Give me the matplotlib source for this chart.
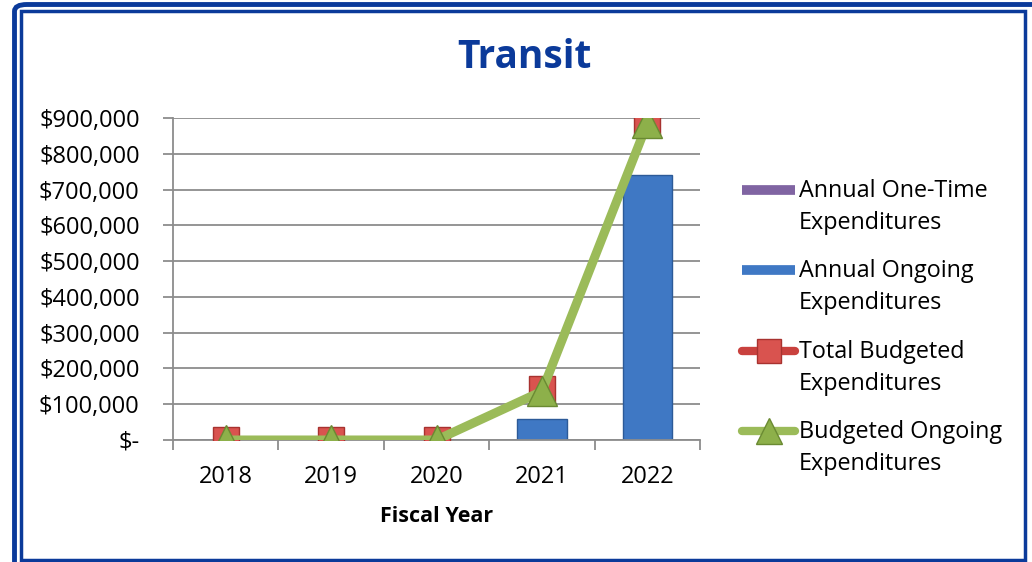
import numpy as np
import matplotlib.pyplot as plt
from matplotlib.lines import Line2D
from matplotlib.patches import FancyBboxPatch, Rectangle
from matplotlib.ticker import FuncFormatter, MultipleLocator

years = ["2018", "2019", "2020", "2021", "2022"]
one_time = [0, 0, 0, 0, 0]
ongoing = [0, 0, 0, 60000, 740000]
total_budgeted = [0, 0, 0, 142000, 890000]
budgeted_ongoing = [0, 0, 0, 136000, 885000]

plt.rcParams["font.family"] = ["Open Sans", "DejaVu Sans"]

purple = "#8064A2"
blue = "#3F78C4"
red = "#C9413E"
green = "#9BBB59"
navy = "#0B3A9A"

fig = plt.figure(figsize=(10.32, 5.62), dpi=100)
W, H = 1032, 562


def fx(px):
    return px / W


def fy(py):
    return 1 - py / H


# double border round the chart area
outer = FancyBboxPatch((fx(14.5), fy(700)), 1.2, fy(4.5) - fy(700),
                       boxstyle="round,pad=0,rounding_size=0.012",
                       transform=fig.transFigure, fill=False, ec=navy, lw=3.5)
inner = Rectangle((fx(21), fy(560)), fx(1024.5) - fx(21), fy(11) - fy(560),
                  transform=fig.transFigure, fill=False, ec=navy, lw=2.5)
fig.patches.extend([outer, inner])

ax = fig.add_axes([fx(173), fy(440), fx(700) - fx(173), fy(118) - fy(440)])
x = np.arange(len(years))

ax.bar(x, ongoing, width=0.47, color=blue, edgecolor="#2C5A98", lw=1, zorder=2)
ax.bar(x, one_time, width=0.47, bottom=ongoing, color=purple, zorder=2)
ax.plot(x, total_budgeted, color=red, lw=3, marker="s", ms=19, mfc="#D9534F", mec="#A8322F",
        mew=1, zorder=3)
ax.plot(x, budgeted_ongoing, color=green, lw=6.5, marker="^", ms=21, mfc="#8DB04A", mec="#6A8A32",
        mew=1, zorder=4, solid_capstyle="round", solid_joinstyle="round")

ax.set_xlim(-0.5, len(years) - 0.5)
ax.set_ylim(0, 900000)
ax.yaxis.set_major_locator(MultipleLocator(100000))
ax.yaxis.set_major_formatter(FuncFormatter(lambda v, p: "$-" if v == 0 else f"${v:,.0f}"))
ax.grid(axis="y", color="#8C8C8C", lw=1.3, zorder=0)
ax.set_axisbelow(True)

ax.set_xticks(np.arange(len(years) + 1) - 0.5)
ax.set_xticklabels([])
ax.set_xticks(x, minor=True)
ax.set_xticklabels(years, minor=True)
ax.tick_params(axis="x", which="major", length=7, width=1.3, color="#8C8C8C")
ax.tick_params(axis="x", which="minor", length=0, pad=18, labelsize=17)
ax.tick_params(axis="y", length=7, width=1.3, color="#8C8C8C", pad=17, labelsize=17)

for s in ["top", "right"]:
    ax.spines[s].set_visible(False)
for s in ["left", "bottom"]:
    ax.spines[s].set_color("#8C8C8C")
    ax.spines[s].set_linewidth(1.3)

fig.text(fx(524), fy(57), "Transit", ha="center", va="center", fontsize=28,
         fontweight="bold", color=navy)
fig.text(fx(437), fy(516), "Fiscal Year", ha="center", va="center", fontsize=15.5,
         fontweight="bold")

# legend: handle beside the first line of each two-line label
labels = ["Annual One-Time\nExpenditures", "Annual Ongoing\nExpenditures",
          "Total Budgeted\nExpenditures", "Budgeted Ongoing\nExpenditures"]
rows = [190, 270, 351, 431]
handles = [
    dict(color=purple, lw=7, solid_capstyle="butt"),
    dict(color=blue, lw=7, solid_capstyle="butt"),
    dict(color=red, lw=6, solid_capstyle="round"),
    dict(color=green, lw=6, solid_capstyle="round"),
]
markers = [None, None, ("s", 17, "#D9534F", "#A8322F"), ("^", 19, "#8DB04A", "#6A8A32")]
for label, row, style, mk in zip(labels, rows, handles, markers):
    fig.add_artist(Line2D([fx(742), fx(795)], [fy(row), fy(row)], transform=fig.transFigure,
                          **style))
    if mk:
        fig.add_artist(Line2D([fx(768.5)], [fy(row)], transform=fig.transFigure, ls="none",
                              marker=mk[0], ms=mk[1], mfc=mk[2], mec=mk[3], mew=1))
    fig.text(fx(799), fy(row - 11), label, ha="left", va="top", fontsize=16.8, linespacing=1.45)

fig.savefig("out.png", dpi=100)
